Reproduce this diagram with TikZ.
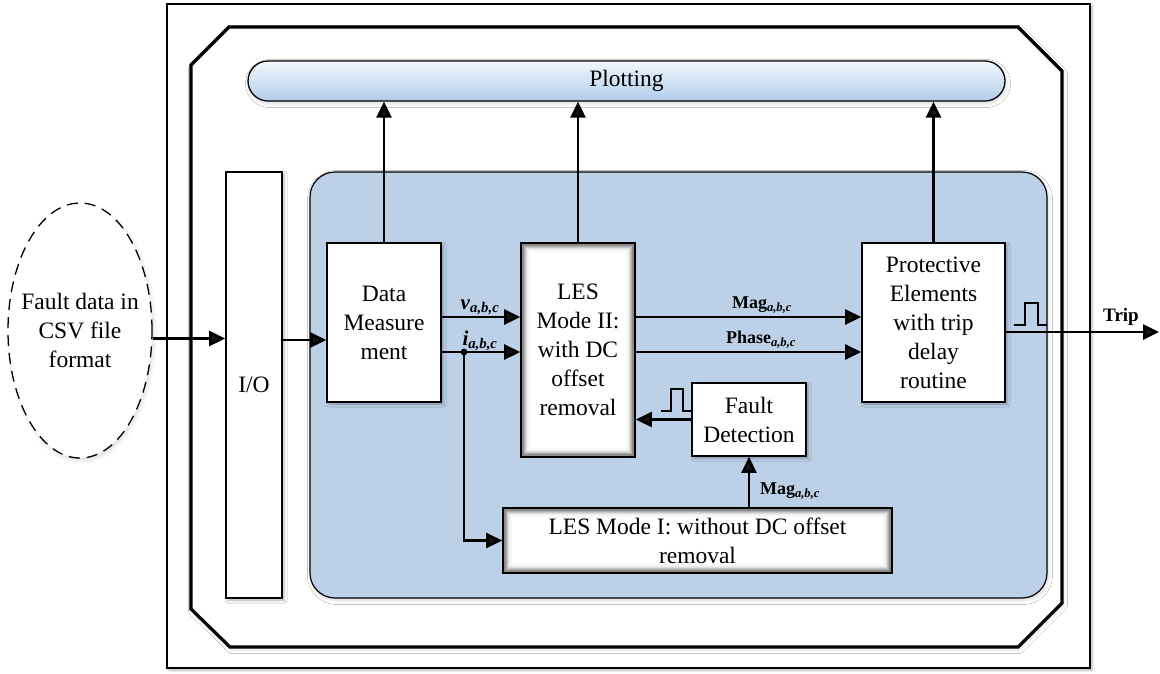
\documentclass[tikz,border=0pt]{standalone}
\usepackage{fontspec}
\setmainfont{Liberation Serif}
\usetikzlibrary{arrows.meta,shapes.geometric,shadows.blur,calc}

\definecolor{panel}{RGB}{188,208,232}
\definecolor{plottop}{RGB}{242,247,252}
\definecolor{plotbot}{RGB}{176,205,234}

\tikzset{
  body/.style={font=\fontsize{23.5pt}{29pt}\selectfont, align=center},
  block/.style={body, rectangle, draw=black, line width=1.6pt, fill=white, inner sep=1pt},
  softshadow/.style={blur shadow={shadow xshift=2pt, shadow yshift=-2pt,
      shadow blur radius=3pt, shadow opacity=30}},
  lightshadow/.style={blur shadow={shadow xshift=1.5pt, shadow yshift=-2.5pt,
      shadow blur radius=4pt, shadow opacity=15}},
  glow/.style={path picture={
      \foreach \i/\c in {0.8pt/60,2pt/45,3.2pt/32,4.4pt/22,5.6pt/13,6.8pt/7,8pt/3}{
        \draw[black!\c, line width=1.3pt]
          ([xshift=\i,yshift=\i]path picture bounding box.south west) rectangle
          ([xshift=-\i,yshift=-\i]path picture bounding box.north east);
      }}},
  conn/.style={line width=2.6pt, -{Triangle[length=16pt,width=15pt]}},
  sig/.style={font=\fontsize{18pt}{20pt}\selectfont\bfseries, inner sep=1pt},
  bigsig/.style={font=\fontsize{21pt}{22pt}\selectfont\bfseries, inner sep=1pt},
  pulse/.style={line width=1.3pt},
}

\begin{document}
\begin{tikzpicture}[x=1pt, y=-1pt]
\useasboundingbox (0,0) rectangle (1160,673);

% outer frame and inner octagonal frame
\draw[line width=2.8pt, fill=white, softshadow] (167,4) rectangle (1090,668);
\draw[line width=3.2pt, fill=white, lightshadow]
  (191,65) -- (229,27) -- (1018,27) -- (1062,71) -- (1062,603)
  -- (1018,647) -- (230,647) -- (191,609) -- cycle;

% plotting bar
\node[body, draw=black, line width=1.3pt, rounded corners=20pt,
      top color=plottop, bottom color=plotbot, lightshadow,
      minimum width=757pt, minimum height=40pt] (plot) at (626.5,81) {Plotting};

% processing panel
\draw[fill=panel, line width=1.2pt, rounded corners=25pt, lightshadow]
  (310,172) rectangle (1047,598);

% input source (negative x-sep keeps the ellipse narrow around its text)
\node[body, ellipse, draw=black, line width=1.3pt, dash pattern=on 11pt off 7pt,
      fill=white, lightshadow, minimum width=144pt, minimum height=255pt,
      inner xsep=-10pt, inner ysep=0pt]
  (src) at (80,330.5) {Fault data in\\CSV file\\format};

% blocks
\node[block, softshadow, minimum width=56pt, minimum height=426pt] (io) at (254,385) {I/O};
\node[block, softshadow, minimum width=114pt, minimum height=159pt] (dm) at (384,322.5)
  {Data\\Measure\\ment};
\node[block, glow, minimum width=114pt, minimum height=214pt] (les2) at (578,350)
  {LES\\Mode II:\\with DC\\offset\\removal};
\node[block, softshadow, minimum width=143pt, minimum height=159pt] (prot) at (933.5,322.5)
  {Protective\\Elements\\with trip\\delay\\routine};
\node[block, softshadow, minimum width=114pt, minimum height=73pt] (fd) at (749,419.5)
  {Fault\\Detection};
\node[block, glow, minimum width=389pt, minimum height=65pt] (les1) at (697.5,540.5)
  {LES Mode I: without DC offset\\removal};

% signal levels
\coordinate (vy) at (0,317);
\coordinate (iy) at (0,352);
\coordinate (iny) at (0,340);
\coordinate (tap) at (464,352);
\coordinate (tripend) at (1159,332);

% connectors
\draw[conn] ([yshift=-8pt]src.east) -- ([yshift=-8pt]src.east -| io.west);
\draw[conn] (io.east |- iny) -- (dm.west |- iny);
\draw[conn] (dm.east |- vy) -- (les2.west |- vy);
\draw[conn] (dm.east |- iy) -- (les2.west |- iy);
\fill (tap) circle (3.4pt);
\draw[conn] (tap) |- (les1.west);
\draw[conn] (les2.east |- vy) -- (prot.west |- vy);
\draw[conn] (les2.east |- iy) -- (prot.west |- iy);
\draw[conn] (fd.west) -- (fd.west -| les2.east);
\draw[conn] (fd.south |- les1.north) -- (fd.south);
\draw[conn] (prot.east |- tripend) -- (tripend);
\draw[conn] (dm.north) -- (dm.north |- plot.south);
\draw[conn] (les2.north) -- (les2.north |- plot.south);
\draw[conn] (prot.north) -- (prot.north |- plot.south);

% pulse symbols
\draw[pulse] (1014,325) -- (1025,325) -- (1025,303) -- (1038,303) -- (1038,325) -- (1047,325);
\draw[pulse] (661,411) -- (671,411) -- (671,389) -- (683,389) -- (683,411) -- (692,411);

% signal labels
\node[bigsig] (vlab) at (480,307) {\textit{v}\textsubscript{\textit{a,b,c}}};
\node[bigsig] (ilab) at (480,341) {\textit{i}\textsubscript{\textit{a,b,c}}};
\node[sig] (maglab) at (762,305) {Mag\textsubscript{\textit{a,b,c}}};
\node[sig] (phlab) at (761,340) {Phase\textsubscript{\textit{a,b,c}}};
\node[sig] (mag2lab) at (790,491) {Mag\textsubscript{\textit{a,b,c}}};
\node[sig, font=\fontsize{19pt}{20pt}\selectfont\bfseries] (triplab) at (1121,317) {Trip};
\end{tikzpicture}
\end{document}
